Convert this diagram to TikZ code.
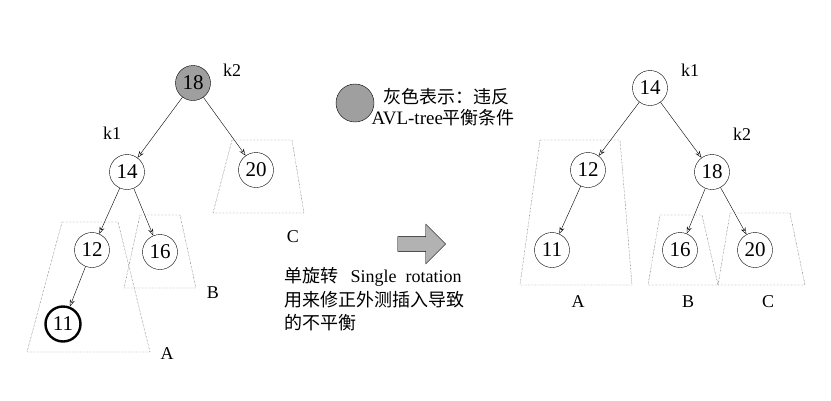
\documentclass[tikz,border=0pt]{standalone}
\usepackage{fontspec}
\setmainfont{Liberation Serif}
\newfontfamily\cjk{Noto Sans CJK SC}
\usetikzlibrary{shapes.arrows,arrows.meta}
\begin{document}
\begin{tikzpicture}[x=1pt,y=-1pt,
  nd/.style={circle,draw,minimum size=35pt,inner sep=0pt,font=\fontsize{21}{21}\selectfont},
  ed/.style={draw,-{Stealth[length=7pt,width=5pt,open]},thin},
  tz/.style={draw,densely dotted,black!80},
  lb/.style={font=\fontsize{18}{18}\selectfont},
  ct/.style={font=\cjk\fontsize{18}{21}\selectfont,anchor=west}]
\useasboundingbox (0,0) rectangle (831,400);
% left tree
\draw[tz] (62,222) -- (118,222) -- (150,352) -- (27,352) -- cycle;
\draw[tz] (140,215) -- (180,215) -- (196,288) -- (124,288) -- cycle;
\draw[tz] (232,140) -- (292,140) -- (304,213) -- (213,213) -- cycle;
\node[nd,fill=gray!75] (a18) at (193,83) {18};
\node[nd] (a14) at (127,172) {14};
\node[nd] (a20) at (256,170) {20};
\node[nd] (a12) at (92,250) {12};
\node[nd] (a16) at (160,252) {16};
\node[nd,line width=2.4pt] (a11) at (63,324) {11};
\node[lb] (lk2) at (232,70) {k2};
\node[lb] (lk1) at (112,133) {k1};
\node[lb] (lC) at (293,237) {C};
\node[lb] (lB) at (213,293) {B};
\node[lb] (lA) at (167,354) {A};
\draw[ed] (a18) -- (a14); \draw[ed] (a18) -- (a20);
\draw[ed] (a14) -- (a12); \draw[ed] (a14) -- (a16);
\draw[ed] (a12) -- (a11);
% legend
\node[circle,draw,fill=gray!75,minimum size=38pt] (leg) at (355,103) {};
\node[ct] (t1) at (380,97) {灰色表示：违反};
\node[ct] (t2) at (368,118) {\fontspec{Liberation Serif}\fontsize{19}{21}\selectfont AVL-tree\cjk\fontsize{18}{21}\selectfont 平衡条件};
% arrow
\node[single arrow,draw,fill=gray!60,minimum height=48pt,minimum width=40pt,single arrow head extend=6pt] (arr) at (418,244) {};
\node[ct] (t3) at (281,277) {单旋转\ \ \ \fontspec{Liberation Serif}\fontsize{18}{21}\selectfont Single\ \ rotation};
\node[ct] (t4) at (281,300) {用来修正外测插入导致};
\node[ct] (t5) at (281,323) {的不平衡};
% right tree
\draw[tz] (540,140) -- (620,140) -- (632,285) -- (520,285) -- cycle;
\draw[tz] (660,215) -- (702,215) -- (718,285) -- (648,285) -- cycle;
\draw[tz] (730,213) -- (790,213) -- (805,285) -- (718,285) -- cycle;
\node[nd] (b14) at (650,88) {14};
\node[nd] (b12) at (588,170) {12};
\node[nd] (b18) at (712,172) {18};
\node[nd] (b11) at (552,250) {11};
\node[nd] (b16) at (680,250) {16};
\node[nd] (b20) at (755,250) {20};
\node[lb] (rk1) at (690,70) {k1};
\node[lb] (rk2) at (742,134) {k2};
\node[lb] (rA) at (578,302) {A};
\node[lb] (rB) at (688,302) {B};
\node[lb] (rC) at (768,302) {C};
\draw[ed] (b14) -- (b12); \draw[ed] (b14) -- (b18);
\draw[ed] (b12) -- (b11);
\draw[ed] (b18) -- (b16); \draw[ed] (b18) -- (b20);
\end{tikzpicture}
\end{document}
